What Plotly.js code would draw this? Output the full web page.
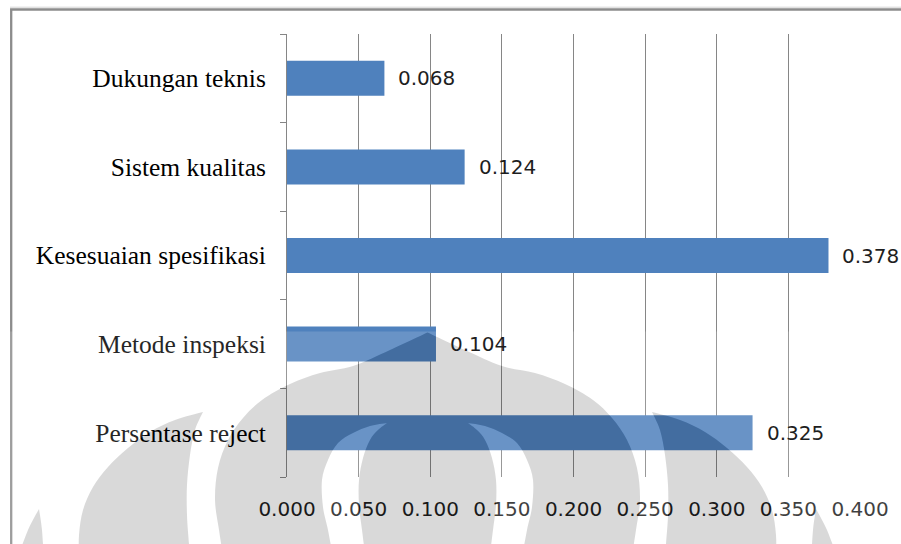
<!DOCTYPE html>
<html>
<head>
<meta charset="utf-8">
<script src="https://cdn.plot.ly/plotly-3.0.1.min.js"></script>
<style>
  html, body { margin: 0; padding: 0; background: #ffffff; }
  #chart { width: 901px; height: 544px; }
</style>
</head>
<body>
<div id="chart"></div>
<script>
// Criteria, bottom to top, with their weights
const categories = [
  'Persentase reject',
  'Metode inspeksi',
  'Kesesuaian spesifikasi',
  'Sistem kualitas',
  'Dukungan teknis'
];
const weights = [0.325, 0.104, 0.378, 0.124, 0.068];

// Value axis ticks
const xTickValues = [0, 0.05, 0.1, 0.15, 0.2, 0.25, 0.3, 0.35, 0.4];
const xTickLabels = ['0.000', '0.050', '0.100', '0.150', '0.200', '0.250', '0.300', '0.350', '0.400'];

// ---- figure geometry (pixels) ----
const W = 901, H = 544;
const M = { l: 287, r: 41, t: 34, b: 67 };
const plotW = W - M.l - M.r, plotH = H - M.t - M.b;
const px2x = x => (x - M.l) / plotW;
const px2y = y => (H - M.b - y) / plotH;

// ---- background emblem, drawn as a translucent SVG overlay ----
const CX2 = 855; // mirror axis doubled (x' = CX2 - x)
const mirror = pts => pts.map(([x, y]) => [CX2 - x, y]);
const f = n => n.toFixed(1);

// Catmull-Rom through points -> cubic bezier segments (no leading M)
function curveTo(pts) {
  let d = '';
  for (let i = 0; i < pts.length - 1; i++) {
    const p0 = pts[i - 1] || pts[i], p1 = pts[i], p2 = pts[i + 1], p3 = pts[i + 2] || p2;
    const c1 = [p1[0] + (p2[0] - p0[0]) / 6, p1[1] + (p2[1] - p0[1]) / 6];
    const c2 = [p2[0] - (p3[0] - p1[0]) / 6, p2[1] - (p3[1] - p1[1]) / 6];
    d += ` C${f(c1[0])} ${f(c1[1])} ${f(c2[0])} ${f(c2[1])} ${f(p2[0])} ${f(p2[1])}`;
  }
  return d;
}
// closed region bounded by two edges starting at the same tip
function lobe(edgeA, edgeB) {
  const back = edgeB.slice().reverse();
  return `M${f(edgeA[0][0])} ${f(edgeA[0][1])}` + curveTo(edgeA) +
         ` L${f(back[0][0])} ${f(back[0][1])}` + curveTo(back) + ' Z';
}

// central dome (left edge from the peak down)
const domeLeft = [[427.5, 332.5], [390, 350], [353, 366], [320, 373], [290, 384], [262, 400],
                  [243, 418], [228, 440], [218, 468], [215, 500], [219, 530], [224, 562]];
const domePath = lobe(domeLeft, mirror(domeLeft));

// openings inside the dome
const archOuter = [[387, 423], [370, 426], [353, 433], [338, 443], [328, 460], [322, 480],
                   [323, 507], [328, 530], [334, 562]];
const archInner = [[387, 423], [378, 430], [370, 440], [363, 458], [359, 480], [359, 505],
                   [362, 530], [366, 562]];
const archL = lobe(archOuter, archInner);
const archR = lobe(mirror(archOuter), mirror(archInner));

// side petals
const petalIn = [[203, 412], [195, 430], [190, 455], [187, 485], [187, 515], [189, 544], [190, 562]];
const petalOut = [[203, 412], [175, 420], [150, 432], [128, 448], [108, 467], [93, 487],
                  [83, 510], [79, 535], [79, 562]];
const petalL = lobe(petalIn, petalOut);
const petalR = lobe(mirror(petalIn), mirror(petalOut));

// outer spikes
const spikeIn = [[39, 509], [42, 530], [44, 562]];
const spikeOut = [[39, 509], [28, 530], [16, 562]];
const spikeL = lobe(spikeIn, spikeOut);
const spikeR = lobe(mirror(spikeIn), mirror(spikeOut));

const grayD = [domePath, archL, archR, petalL, petalR, spikeL, spikeR].join(' ');
const emblemSvg =
  `<svg xmlns="http://www.w3.org/2000/svg" width="${W}" height="${H}" viewBox="0 0 ${W} ${H}">` +
  `<path fill="#ffffff" fill-opacity="0.15" fill-rule="evenodd" d="M0 331.5 H${W} V570 H0 Z ${grayD}"/>` +
  `<path fill="#000000" fill-opacity="0.15" fill-rule="evenodd" d="${grayD}"/>` +
  `</svg>`;
const emblemSrc = 'data:image/svg+xml;charset=utf-8,' + encodeURIComponent(emblemSvg);

// ---- chart ----
const trace = {
  type: 'bar',
  orientation: 'h',
  x: weights,
  y: categories,
  marker: { color: '#4F81BD', line: { width: 0 } },
  hoverinfo: 'x+y'
};

const valueFont = { family: 'DejaVu Sans, sans-serif', size: 20, color: '#1e1e1e' };

const annotations = weights.map((v, i) => ({
  x: v, y: categories[i], xref: 'x', yref: 'y',
  text: v.toFixed(3), showarrow: false,
  xanchor: 'left', yanchor: 'middle', xshift: 12,
  font: valueFont
}));

const layout = {
  width: W, height: H,
  margin: M,
  paper_bgcolor: '#ffffff',
  plot_bgcolor: '#ffffff',
  showlegend: false,
  bargap: 0.605,
  xaxis: {
    range: [0, 0.4],
    tickvals: xTickValues,
    ticktext: xTickLabels,
    showgrid: true, gridcolor: '#868686', gridwidth: 1,
    zeroline: false, showline: false, ticks: '',
    ticklabelstandoff: 18,
    tickfont: valueFont,
    fixedrange: true
  },
  yaxis: {
    type: 'category',
    categoryorder: 'array', categoryarray: categories,
    showgrid: false, zeroline: false,
    showline: true, linecolor: '#868686', linewidth: 1,
    ticks: 'outside', tickson: 'boundaries', ticklen: 6, tickcolor: '#868686', tickwidth: 1,
    ticklabelstandoff: 15,
    tickfont: { family: 'Liberation Serif, Times New Roman, serif', size: 25.5, color: '#000000' },
    fixedrange: true
  },
  shapes: [
    { type: 'rect', xref: 'paper', yref: 'paper', layer: 'below',
      x0: px2x(11.2), x1: px2x(W + 20), y0: px2y(H + 20), y1: px2y(9.5),
      line: { color: '#8c8c8c', width: 2.3 }, fillcolor: 'rgba(0,0,0,0)' },
    { type: 'line', xref: 'paper', yref: 'paper', layer: 'below',
      x0: px2x(10), x1: px2x(W + 20), y0: px2y(7.2), y1: px2y(7.2),
      line: { color: '#d4d4d4', width: 1 } }
  ],
  images: [{
    source: emblemSrc, xref: 'paper', yref: 'paper',
    x: px2x(0), y: px2y(0), sizex: W / plotW, sizey: H / plotH,
    xanchor: 'left', yanchor: 'top', sizing: 'stretch', layer: 'above', opacity: 1
  }],
  annotations: annotations
};

Plotly.newPlot('chart', [trace], layout, { displayModeBar: false, staticPlot: true });
</script>
</body>
</html>
